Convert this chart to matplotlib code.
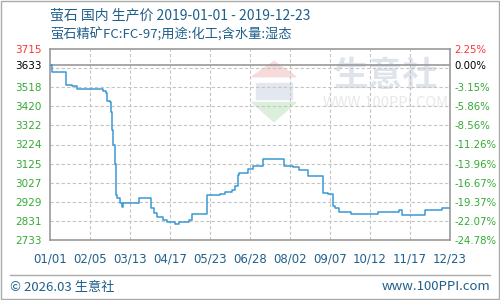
import matplotlib.pyplot as plt
import matplotlib.patches as mpatches
import numpy as np
import pandas as pd

plt.rcParams['font.family'] = ['Noto Sans CJK SC', 'DejaVu Sans']

# price steps (date the price changed, new price)
dates = ["2019-01-01", "2019-01-03", "2019-01-15", "2019-01-21", "2019-01-25",
         "2019-02-17", "2019-02-20", "2019-02-21", "2019-02-23", "2019-02-24",
         "2019-02-25", "2019-02-26", "2019-02-28", "2019-03-01", "2019-03-02",
         "2019-03-04", "2019-03-06", "2019-03-07", "2019-03-21", "2019-04-01",
         "2019-04-04", "2019-04-06", "2019-04-12", "2019-04-15", "2019-04-22",
         "2019-04-26", "2019-05-05", "2019-05-07", "2019-05-21", "2019-05-25",
         "2019-06-01", "2019-06-06", "2019-06-12", "2019-06-15", "2019-06-17",
         "2019-06-18", "2019-06-26", "2019-07-01", "2019-07-10", "2019-07-28",
         "2019-08-05", "2019-08-11", "2019-08-19", "2019-09-01", "2019-09-05",
         "2019-09-10", "2019-09-12", "2019-09-15", "2019-09-26", "2019-10-20",
         "2019-11-08", "2019-11-10", "2019-12-01", "2019-12-16", "2019-12-23"]
prices = [3633, 3598, 3530, 3523, 3511,
          3501, 3489, 3449, 3440, 3389,
          3300, 3223, 3125, 2966, 2949,
          2923, 2903, 2923, 2949, 2898,
          2872, 2849, 2834, 2826, 2815,
          2826, 2837, 2867, 2962, 2966,
          2971, 2980, 2992, 3012, 3069,
          3077, 3098, 3115, 3150, 3115,
          3106, 3094, 3060, 2976, 2971,
          2906, 2898, 2877, 2868, 2875,
          2889, 2863, 2889, 2898, 2898]

base = 3633
y_ticks = [3715, 3633, 3518, 3420, 3322, 3224, 3125, 3027, 2929, 2831, 2733]
pct_labels = ["2.25%", "0.00%", "-3.15%", "-5.86%", "-8.56%", "-11.26%",
              "-13.96%", "-16.67%", "-19.37%", "-22.07%", "-24.78%"]
x_labels = ["01/01", "02/05", "03/13", "04/17", "05/23", "06/28",
            "08/02", "09/07", "10/12", "11/17", "12/23"]

dark_blue = "#1f5f8b"
green = "#33aa33"
red = "#ff3333"

fig = plt.figure(figsize=(5, 3), dpi=100)
fig.patch.set_facecolor("white")
fig.add_artist(mpatches.Rectangle((0.002, 0.003), 0.996, 0.994, transform=fig.transFigure,
                                  fill=False, edgecolor="#aaaaaa", linewidth=1))

ax = fig.add_axes([50 / 500, 60 / 300, 400 / 500, 191 / 300])
d = pd.to_datetime(dates)
start, end = pd.Timestamp("2019-01-01"), pd.Timestamp("2019-12-23")
ax.set_xlim(start, end)
ax.set_ylim(2733, 3715)

# watermark
ax.text(0.84, 0.86, "生意社", transform=ax.transAxes, fontsize=25, color="#dfe4ec",
        ha="center", va="center", fontweight="bold", zorder=0)
ax.text(0.84, 0.715, "WWW.100PPI.COM", transform=ax.transAxes, fontsize=10.5, color="#e6e8eb",
        ha="center", va="center", zorder=0)
ax.add_patch(mpatches.Polygon([[0.505, 0.855], [0.56, 0.935], [0.615, 0.855]], closed=True,
                              transform=ax.transAxes, color="#f7dada", zorder=0))
ax.add_patch(mpatches.Polygon([[0.505, 0.72], [0.56, 0.62], [0.615, 0.72]], closed=True,
                              transform=ax.transAxes, color="#dbefdb", zorder=0))
ax.add_patch(mpatches.Rectangle((0.515, 0.74), 0.09, 0.08, transform=ax.transAxes,
                                color="#e3e8f0", zorder=0))

# grid
grid_y = np.linspace(2733, 3715, 11)
for gy in grid_y[1:-1]:
    ax.axhline(gy, color="#c4c4c4", linestyle=(0, (3, 2)), linewidth=0.8, zorder=1)
xt = [start + (end - start) * k / 10 for k in range(11)]
for gx in xt[1:-1]:
    ax.axvline(gx, color="#c4c4c4", linestyle=(0, (3, 2)), linewidth=0.8, zorder=1)
ax.axhline(base, color="#999999", linewidth=1.2, zorder=2)

ax.plot(d, prices, drawstyle="steps-post", color="#3a98d4", linewidth=1.1, zorder=3)

for s in ax.spines.values():
    s.set_color("#999999")
    s.set_linewidth(1.2)

ax.set_xticks(xt)
ax.set_xticklabels(x_labels, color=dark_blue, fontsize=8.5, family="DejaVu Sans")
ax.set_yticks(y_ticks)
ax.set_yticklabels([str(v) for v in y_ticks], fontsize=7.5, family="DejaVu Sans")
for lab, v in zip(ax.get_yticklabels(), y_ticks):
    lab.set_color(red if v == 3715 else ("black" if v == base else green))
ax.tick_params(length=0, pad=6)
ax.tick_params(axis="x", pad=9)

ax2 = ax.twinx()
ax2.set_ylim(2733, 3715)
ax2.set_yticks(y_ticks)
ax2.set_yticklabels(pct_labels, fontsize=7.3, family="DejaVu Sans")
for lab, v in zip(ax2.get_yticklabels(), y_ticks):
    lab.set_color(red if v == 3715 else ("black" if v == base else green))
ax2.tick_params(length=0, pad=3)
for s in ax2.spines.values():
    s.set_visible(False)

fig.text(50 / 500, 1 - 15 / 300, "萤石 国内 生产价 2019-01-01 - 2019-12-23",
         color=dark_blue, fontsize=10, va="center", ha="left")
fig.text(50 / 500, 1 - 35 / 300, "萤石精矿FC:FC-97;用途:化工;含水量:湿态",
         color=dark_blue, fontsize=9.5, va="center", ha="left")

fig.add_artist(plt.Line2D([10 / 500, 490 / 500], [1 - 275 / 300, 1 - 275 / 300],
                          transform=fig.transFigure, color="#aaaaaa", linewidth=1))
fig.text(10 / 500, 1 - 287 / 300, "© 2026.03 生意社", color=dark_blue, fontsize=9.5,
         va="center", ha="left")
fig.text(490 / 500, 1 - 287 / 300, "www.100PPI.com", color=dark_blue, fontsize=9.5,
         va="center", ha="right")

fig.savefig("out.png", dpi=100)
